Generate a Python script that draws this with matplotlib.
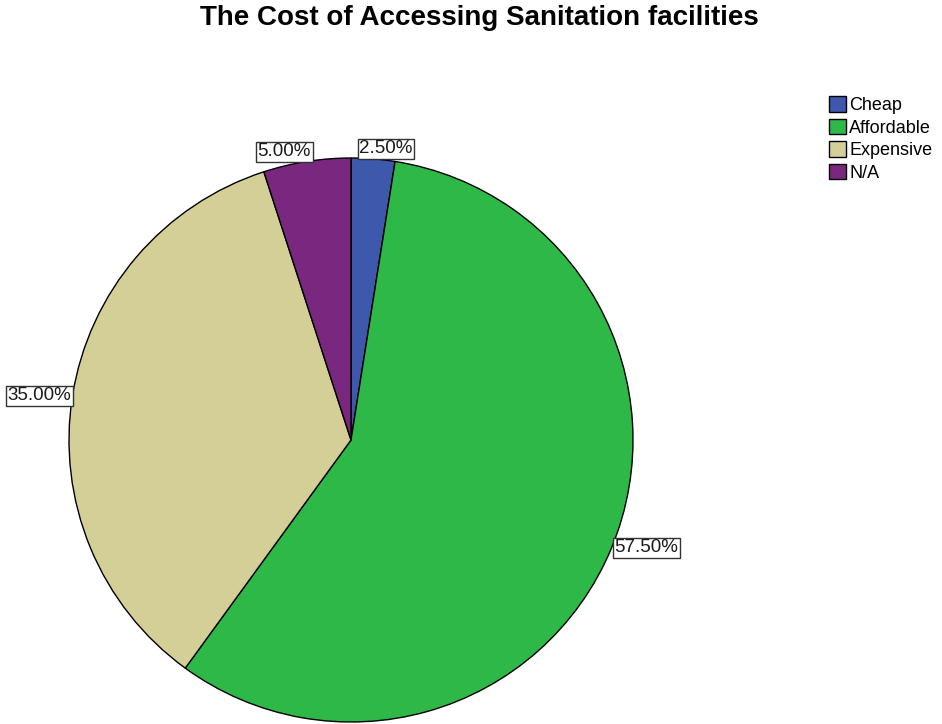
import matplotlib.pyplot as plt
import numpy as np

plt.rcParams['font.family'] = ['Liberation Sans', 'DejaVu Sans']

categories = ['Cheap', 'Affordable', 'Expensive', 'N/A']
percents = [2.50, 57.50, 35.00, 5.00]
colors = ['#3E58AC', '#2EB848', '#D4CE97', '#7A287F']

W, H = 942, 724
fig = plt.figure(figsize=(W / 100, H / 100), dpi=100)

# pie area: centre (351, 440), radius 282 px
cx, cy, r = 351, 440, 282
ax = fig.add_axes([(cx - r) / W, (H - cy - r) / H, 2 * r / W, 2 * r / H])
ax.axis('off')

wedges, _ = ax.pie(percents, colors=colors, startangle=90, counterclock=False,
                   radius=1, center=(0, 0), frame=False,
                   wedgeprops=dict(edgecolor='black', linewidth=1.0))
ax.set_xlim(-1, 1)
ax.set_ylim(-1, 1)

for w, p in zip(wedges, percents):
    ang = np.deg2rad((w.theta1 + w.theta2) / 2)
    x, y = np.cos(ang), np.sin(ang)
    ha = 'left' if x > 0 else 'right'
    if y > 0.8:
        va, dx, dy = 'bottom', (-10 if x > 0 else 3), 1
    else:
        va, dx, dy = 'center', (2 if x > 0 else -1), 0
    ax.annotate('%.2f%%' % p, xy=(x, y), xytext=(dx, dy),
                textcoords='offset points', ha=ha, va=va, fontsize=13.5,
                color='#1a1a1a', annotation_clip=False,
                bbox=dict(boxstyle='square,pad=0.08', fc='white', ec='#333333', lw=1))

fig.text(479 / W, 1 - 18 / H, 'The Cost of Accessing Sanitation facilities',
         ha='center', va='center', fontsize=20, fontweight='bold')

fig.legend(wedges, categories, loc='upper left', bbox_to_anchor=(822 / W, 1 - 89 / H),
           frameon=False, fontsize=13, handlelength=0.95, handleheight=0.95,
           handletextpad=0.15, labelspacing=0.25, borderaxespad=0)

fig.savefig('out.png', dpi=100)
